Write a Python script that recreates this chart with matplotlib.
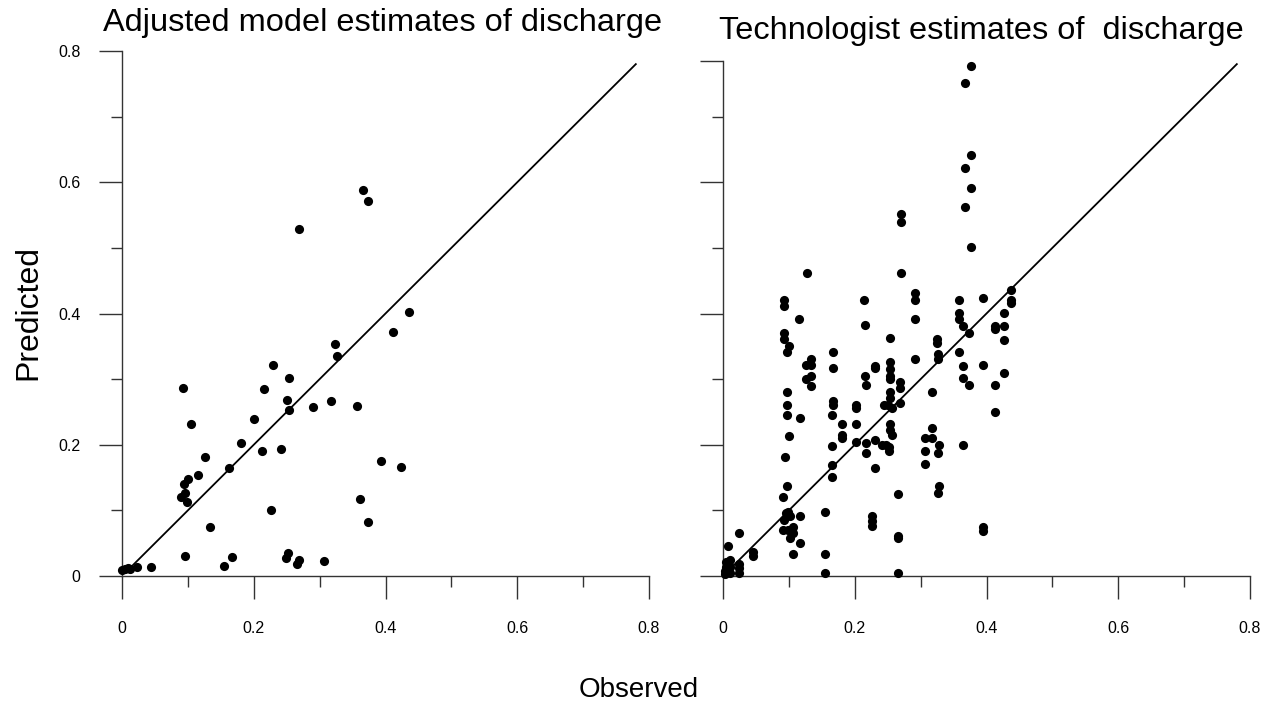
import matplotlib.pyplot as plt
from matplotlib.ticker import FixedLocator

plt.rcParams['font.family'] = ['Liberation Sans', 'DejaVu Sans']

# ---------------- data ----------------
# left panel: adjusted model
obs_adj = [0.000, 0.004, 0.009, 0.012, 0.023, 0.044,
           0.092, 0.105, 0.126, 0.116, 0.100, 0.094, 0.096, 0.090, 0.099, 0.133, 0.096,
           0.155, 0.167, 0.163, 0.180, 0.200, 0.213, 0.216, 0.229, 0.226, 0.242,
           0.253, 0.250, 0.253, 0.252, 0.249, 0.268, 0.265, 0.290, 0.306,
           0.317, 0.324, 0.326, 0.356, 0.362, 0.373, 0.393, 0.424, 0.412, 0.436,
           0.366, 0.374, 0.269]
pred_adj = [0.009, 0.011, 0.012, 0.010, 0.014, 0.013,
            0.287, 0.231, 0.182, 0.154, 0.148, 0.140, 0.127, 0.120, 0.113, 0.075, 0.031,
            0.016, 0.029, 0.164, 0.202, 0.239, 0.191, 0.285, 0.322, 0.100, 0.194,
            0.301, 0.268, 0.253, 0.035, 0.027, 0.024, 0.018, 0.257, 0.023,
            0.267, 0.354, 0.335, 0.259, 0.117, 0.082, 0.176, 0.166, 0.372, 0.403,
            0.588, 0.572, 0.529]

# right panel: technologist
obs_tech = [0.003, 0.003, 0.005, 0.005, 0.010, 0.010, 0.010, 0.008,
            0.024, 0.024, 0.024, 0.024,
            0.045, 0.045,
            0.093, 0.093, 0.093, 0.093, 0.100, 0.097, 0.097, 0.097, 0.097, 0.100, 0.094, 0.097,
            0.091, 0.099, 0.095, 0.101, 0.093, 0.091, 0.099, 0.107, 0.107, 0.101, 0.106,
            0.116, 0.117, 0.117, 0.117,
            0.127, 0.126, 0.134, 0.134, 0.126, 0.134, 0.134,
            0.155, 0.155, 0.155,
            0.167, 0.167, 0.167, 0.167, 0.165, 0.165, 0.165, 0.165,
            0.181, 0.181, 0.181,
            0.202, 0.202, 0.202, 0.202,
            0.214, 0.215, 0.215, 0.217, 0.217, 0.217,
            0.231, 0.231, 0.231, 0.231, 0.226, 0.226, 0.226,
            0.253, 0.253, 0.253, 0.253, 0.253, 0.253, 0.253, 0.244, 0.250,
            0.256, 0.253, 0.253, 0.256, 0.242, 0.247, 0.252, 0.252,
            0.270, 0.270, 0.270, 0.268, 0.268, 0.268, 0.265, 0.265, 0.265, 0.265,
            0.291, 0.291, 0.291, 0.291,
            0.318, 0.318, 0.306, 0.318, 0.328, 0.326, 0.306,
            0.306, 0.328, 0.326, 0.325, 0.325, 0.327, 0.327,
            0.376, 0.367, 0.376, 0.367, 0.376, 0.367, 0.376, 0.358, 0.358,
            0.358, 0.364, 0.374, 0.358, 0.364, 0.364, 0.374, 0.364,
            0.395, 0.395, 0.395, 0.395,
            0.413, 0.413, 0.413, 0.413,
            0.426, 0.426, 0.426, 0.426,
            0.437, 0.437, 0.437]
pred_tech = [0.003, 0.007, 0.014, 0.022, 0.004, 0.014, 0.025, 0.045,
             0.004, 0.012, 0.019, 0.066,
             0.030, 0.037,
             0.421, 0.411, 0.371, 0.361, 0.351, 0.341, 0.280, 0.261, 0.246, 0.214, 0.181, 0.137,
             0.120, 0.098, 0.096, 0.092, 0.085, 0.070, 0.070, 0.074, 0.066, 0.058, 0.033,
             0.391, 0.241, 0.091, 0.050,
             0.461, 0.321, 0.331, 0.321, 0.300, 0.305, 0.290,
             0.097, 0.034, 0.005,
             0.341, 0.317, 0.266, 0.260, 0.246, 0.198, 0.169, 0.151,
             0.231, 0.215, 0.210,
             0.261, 0.256, 0.231, 0.204,
             0.420, 0.382, 0.305, 0.291, 0.202, 0.188,
             0.320, 0.317, 0.208, 0.165, 0.092, 0.084, 0.076,
             0.363, 0.326, 0.315, 0.305, 0.300, 0.281, 0.271, 0.261, 0.260,
             0.256, 0.231, 0.223, 0.215, 0.200, 0.200, 0.196, 0.190,
             0.552, 0.539, 0.461, 0.296, 0.286, 0.264, 0.125, 0.061, 0.058, 0.005,
             0.432, 0.421, 0.391, 0.331,
             0.281, 0.226, 0.211, 0.211, 0.200, 0.188, 0.190,
             0.170, 0.137, 0.127, 0.361, 0.355, 0.339, 0.330,
             0.777, 0.752, 0.641, 0.621, 0.591, 0.563, 0.501, 0.421, 0.401,
             0.392, 0.381, 0.371, 0.341, 0.320, 0.301, 0.291, 0.200,
             0.423, 0.321, 0.074, 0.069,
             0.381, 0.377, 0.291, 0.250,
             0.401, 0.381, 0.359, 0.310,
             0.436, 0.421, 0.416]

line_ends = [0.015, 0.78]          # 1:1 reference line
tick_major = [0, 0.2, 0.4, 0.6, 0.8]
tick_minor = [0.1, 0.3, 0.5, 0.7]
tick_labels = ['0', '0.2', '0.4', '0.6', '0.8']
right_ytop = 0.785

TITLE_L = "Adjusted model estimates of discharge"
TITLE_R = "Technologist estimates of  discharge"

# ---------------- figure ----------------
W, H = 1273, 710
fig = plt.figure(figsize=(W / 100, H / 100), dpi=100)

ax1 = fig.add_axes([122 / W, 1 - 576 / H, 527 / W, 525 / H])
ax2 = fig.add_axes([723 / W, 1 - 576 / H, 527 / W, 525 / H])

spine_col = '#333333'

for ax, xs, ys in [(ax1, obs_adj, pred_adj), (ax2, obs_tech, pred_tech)]:
    ax.plot(line_ends, line_ends, color='black', lw=1.3, zorder=2)
    ax.plot(xs, ys, 'o', color='black', ms=6.6, mew=0, clip_on=False, zorder=3)

    ax.set_xlim(0, 0.8)
    ax.set_ylim(0, 0.8)
    for s in ['top', 'right']:
        ax.spines[s].set_visible(False)
    for s in ['left', 'bottom']:
        ax.spines[s].set_color(spine_col)
        ax.spines[s].set_linewidth(1.0)

    ax.xaxis.set_major_locator(FixedLocator(tick_major))
    ax.xaxis.set_minor_locator(FixedLocator(tick_minor))
    ax.set_xticklabels(tick_labels)
    ax.tick_params(which='major', direction='out', length=16.3, width=1.0,
                   color=spine_col, labelsize=11.5)
    ax.tick_params(axis='x', which='major', pad=16)
    ax.tick_params(axis='y', which='major', pad=13.5)
    ax.tick_params(which='minor', direction='out', length=8.1, width=1.0,
                   color=spine_col)

ax1.yaxis.set_major_locator(FixedLocator(tick_major))
ax1.yaxis.set_minor_locator(FixedLocator(tick_minor))
ax1.set_yticklabels(tick_labels)

# right panel: y axis stops at the top of the data range
ax2.spines['left'].set_bounds(0, right_ytop)
ax2.yaxis.set_major_locator(FixedLocator(tick_major[:-1] + [right_ytop]))
ax2.yaxis.set_minor_locator(FixedLocator(tick_minor))
ax2.tick_params(axis='y', labelleft=False)

# titles and axis labels
fig.text(383 / W, 1 - 31 / H, TITLE_L, ha='center', va='baseline', fontsize=23.4)
fig.text(981 / W, 1 - 39 / H, TITLE_R, ha='center', va='baseline', fontsize=23.4)
fig.text(28 / W, 1 - 312 / H, "Predicted", rotation=90, ha='center', va='center', fontsize=23)
fig.text(639 / W, 1 - 690 / H, "Observed", ha='center', va='center', fontsize=20)

fig.savefig("out.png", dpi=100)
